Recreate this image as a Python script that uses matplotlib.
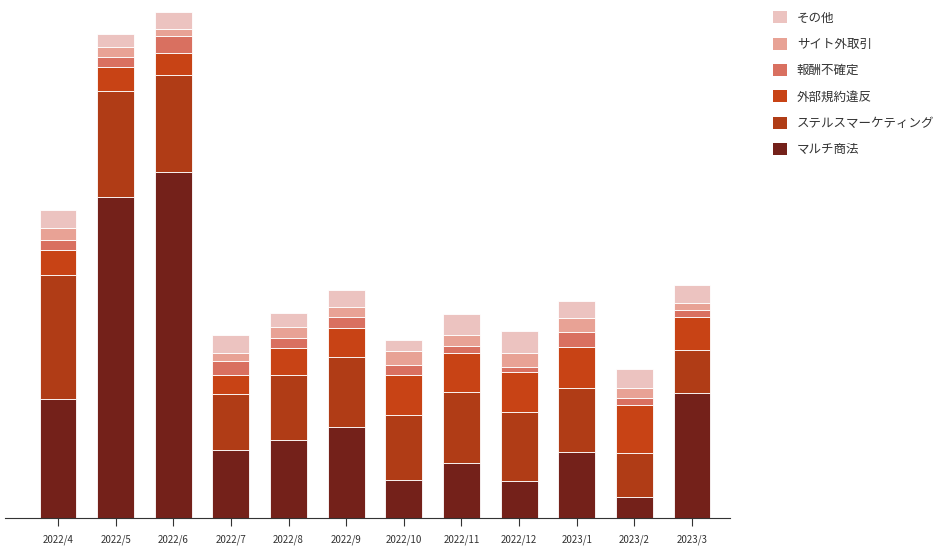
import matplotlib.pyplot as plt
import numpy as np
from matplotlib.patches import Patch

plt.rcParams['font.family'] = ['Noto Sans CJK JP', 'DejaVu Sans']

months = ['2022/4', '2022/5', '2022/6', '2022/7', '2022/8', '2022/9',
          '2022/10', '2022/11', '2022/12', '2023/1', '2023/2', '2023/3']

# stacked from the bottom up
multi = [119, 321, 346, 68, 78, 91, 38, 55, 37, 66, 21, 125]
stealth = [124, 106, 97, 56, 65, 70, 65, 71, 69, 64, 44, 43]
gaibu = [25, 24, 22, 19, 27, 29, 40, 39, 40, 41, 48, 33]
housyu = [10, 10, 17, 14, 10, 11, 10, 7, 5, 15, 7, 7]
site = [12, 10, 7, 8, 11, 10, 14, 11, 14, 14, 10, 7]
sonota = [18, 13, 17, 18, 14, 17, 11, 21, 22, 17, 19, 18]

series = [
    ('マルチ商法', multi, '#74211a'),
    ('ステルスマーケティング', stealth, '#b03c16'),
    ('外部規約違反', gaibu, '#c84315'),
    ('報酬不確定', housyu, '#d97060'),
    ('サイト外取引', site, '#e8a295'),
    ('その他', sonota, '#ecc3c0'),
]

fig = plt.figure(figsize=(9.5, 5.59), dpi=100)
ax = fig.add_axes([5 / 950, 41 / 559, 725 / 950, 518 / 559])

x = np.arange(len(months))
bottom = np.zeros(len(months))
for name, vals, color in series:
    ax.bar(x, vals, 0.64, bottom=bottom, color=color, edgecolor='white', linewidth=0.6)
    bottom += np.array(vals)

ax.set_xlim(-0.92, 11.66)
ax.set_ylim(0, 518)
for s in ['top', 'right', 'left']:
    ax.spines[s].set_visible(False)
ax.spines['bottom'].set_color('#333333')
ax.set_yticks([])
ax.set_xticks(x)
ax.set_xticklabels(months, fontsize=7, color='#333333')
ax.tick_params(axis='x', length=6, color='#333333', pad=6)

handles = [Patch(facecolor=c, edgecolor='none', label=n) for n, _, c in reversed(series)]
fig.legend(handles=handles, loc='upper left', bbox_to_anchor=(0.802, 1.0),
           frameon=False, fontsize=9, handlelength=1.1, handleheight=1.1,
           labelspacing=1.05, handletextpad=0.8, labelcolor='#333333')

fig.savefig('out.png', dpi=100)
